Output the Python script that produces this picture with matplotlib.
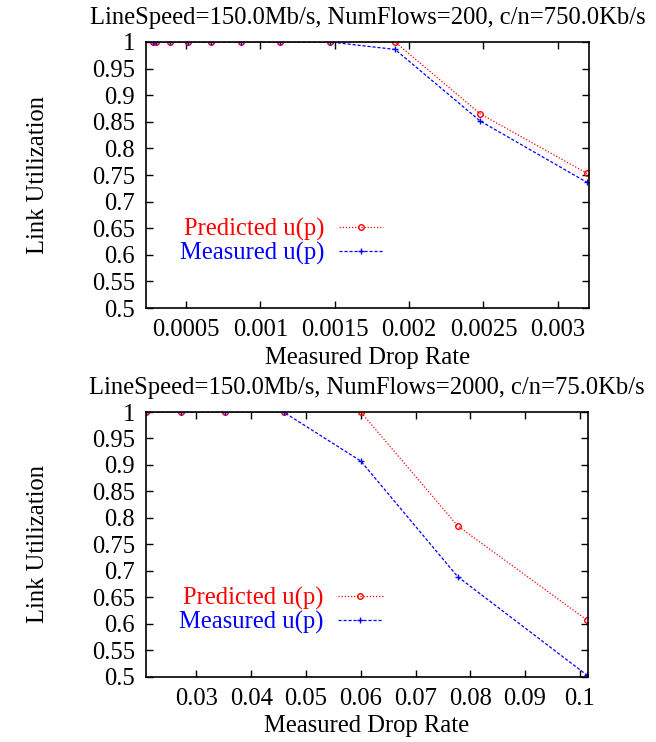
import matplotlib
matplotlib.use("Agg")
import matplotlib.pyplot as plt

plt.rcParams['font.family'] = ['Liberation Serif', 'DejaVu Serif']

# top panel: 200 flows
top_drop = [0.000276, 0.000298, 0.000392, 0.000511, 0.000668, 0.00087,
            0.001133, 0.00147, 0.001906, 0.002478, 0.003197]
top_pred = [1, 1, 1, 1, 1, 1, 1, 1, 1, 0.865, 0.753]
top_meas = [1, 1, 1, 1, 1, 1, 1, 1, 0.986, 0.8515, 0.736]
top_title = "LineSpeed=150.0Mb/s, NumFlows=200, c/n=750.0Kb/s"
top_xticks = [0.0005, 0.001, 0.0015, 0.002, 0.0025, 0.003]
top_xticklabels = ["0.0005", "0.001", "0.0015", "0.002", "0.0025", "0.003"]

# bottom panel: 2000 flows
bot_drop = [0.0208, 0.0271, 0.0353, 0.0459, 0.060, 0.0777, 0.1013]
bot_pred = [1, 1, 1, 1, 1, 0.785, 0.607]
bot_meas = [1, 1, 1, 1, 0.9075, 0.689, 0.503]
bot_title = "LineSpeed=150.0Mb/s, NumFlows=2000, c/n=75.0Kb/s"
bot_xticks = [0.03, 0.04, 0.05, 0.06, 0.07, 0.08, 0.09, 0.1]
bot_xticklabels = ["0.03", "0.04", "0.05", "0.06", "0.07", "0.08", "0.09", "0.1"]

yticks = [0.5, 0.55, 0.6, 0.65, 0.7, 0.75, 0.8, 0.85, 0.9, 0.95, 1.0]
yticklabels = ["0.5", "0.55", "0.6", "0.65", "0.7", "0.75", "0.8", "0.85", "0.9", "0.95", "1"]

fs = 17.7

fig = plt.figure(figsize=(6.56, 7.42), dpi=100)
ax1 = fig.add_axes([0.2226, 0.5849, 0.6753, 0.3585])
ax2 = fig.add_axes([0.2226, 0.0880, 0.6738, 0.3567])


def draw(ax, x, pred, meas, title, xt, xtl, xlim):
    ax.plot(x, pred, color='red', linestyle=(0, (1, 1.5)), linewidth=0.9,
            marker='o', markersize=4, markerfacecolor='none',
            markeredgewidth=1.0, label='Predicted u(p)')
    ax.plot(x, meas, color='blue', linestyle=(0, (2.5, 1.5)), linewidth=0.9,
            marker='+', markersize=5, markeredgewidth=1.0,
            label='Measured u(p)')
    ax.set_xlim(*xlim)
    ax.set_ylim(0.5, 1.0)
    ax.set_xticks(xt)
    ax.set_xticklabels(xtl)
    ax.set_yticks(yticks)
    ax.set_yticklabels(yticklabels)
    ax.tick_params(direction='in', top=True, right=True, length=5,
                   width=1, labelsize=fs, pad=8)
    for s in ax.spines.values():
        s.set_linewidth(1.2)
    ax.set_title(title, fontsize=fs, pad=13)
    ax.set_xlabel('Measured Drop Rate', fontsize=fs, labelpad=4)
    ax.set_ylabel('Link Utilization', fontsize=fs, labelpad=31)
    ax.legend(loc='center right', bbox_to_anchor=(0.535, 0.25),
              frameon=False, markerfirst=False, labelcolor='linecolor',
              fontsize=fs, handlelength=1.8, handletextpad=0.6,
              borderpad=0, borderaxespad=0, labelspacing=0.05)


draw(ax1, top_drop, top_pred, top_meas, top_title, top_xticks,
     top_xticklabels, (0.000231, 0.00321))
draw(ax2, bot_drop, bot_pred, bot_meas, bot_title, bot_xticks,
     bot_xticklabels, (0.0208, 0.1015))

fig.savefig('out.png', dpi=100)
